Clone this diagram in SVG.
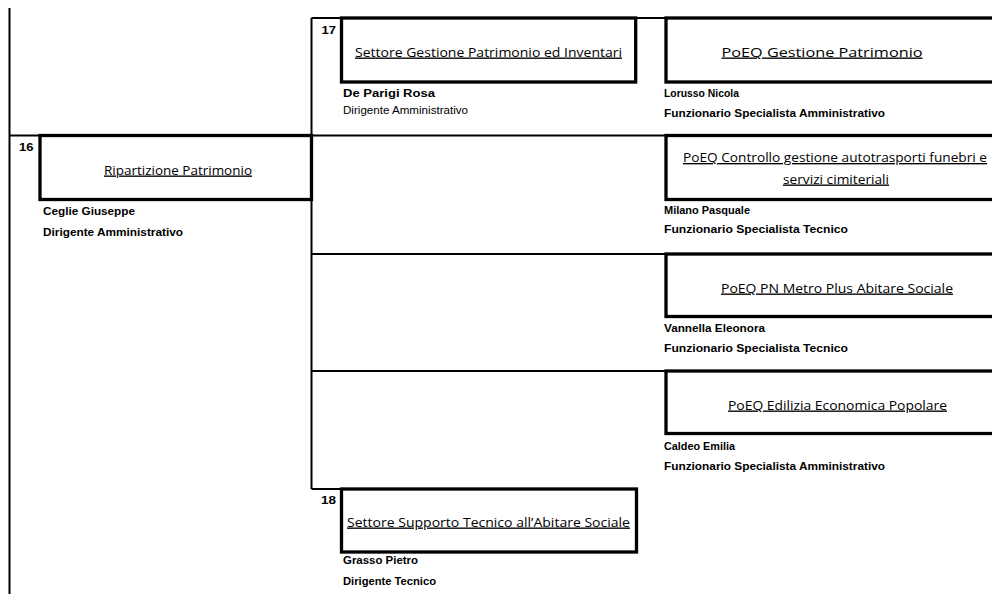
<svg xmlns="http://www.w3.org/2000/svg" width="992" height="594" viewBox="0 0 992 594">
<style>
.bg{fill:#fff}
.ln{stroke:#000;stroke-width:2;fill:none}
.bx{stroke:#000;stroke-width:3.3;fill:#fff}
.t{font-family:"Open Sans","Noto Sans",sans-serif;font-size:13.5px;fill:#000;text-decoration:underline}
.n{font-family:"Liberation Sans",Arial,sans-serif;font-size:11.5px;font-weight:bold;fill:#000}
.b{font-family:"Liberation Sans",Arial,sans-serif;font-size:10.2px;font-weight:bold;fill:#000}
.r{font-family:"Liberation Sans",Arial,sans-serif;font-size:10px;fill:#000}
.bl{font-family:"Liberation Sans",Arial,sans-serif;font-size:11.5px;font-weight:bold;fill:#000}
</style>
<rect class="bg" x="0" y="0" width="992" height="594"/>
<g id="connectors">
<line class="ln" x1="9.5" y1="8" x2="9.5" y2="594"/>
<line class="ln" x1="9.5" y1="135.5" x2="40" y2="135.5"/>
<line class="ln" x1="311.5" y1="135.5" x2="666" y2="135.5"/>
<line class="ln" x1="311.5" y1="18" x2="311.5" y2="489"/>
<line class="ln" x1="311.5" y1="18" x2="341.5" y2="18"/>
<line class="ln" x1="635.7" y1="18" x2="666" y2="18"/>
<line class="ln" x1="311.5" y1="254" x2="666" y2="254"/>
<line class="ln" x1="311.5" y1="371" x2="666" y2="371"/>
<line class="ln" x1="311.5" y1="489" x2="341.5" y2="489"/>
</g>
<g id="node16">
<rect class="bx" x="40" y="135.5" width="271.5" height="64"/>
<text class="n" x="19" y="151" textLength="14.5" lengthAdjust="spacingAndGlyphs">16</text>
<text class="t" x="178" y="174.5" text-anchor="middle" textLength="148" lengthAdjust="spacingAndGlyphs">Ripartizione Patrimonio</text>
<text class="b" x="43" y="215" textLength="92" lengthAdjust="spacingAndGlyphs">Ceglie Giuseppe</text>
<text class="b" x="43" y="236" textLength="140" lengthAdjust="spacingAndGlyphs">Dirigente Amministrativo</text>
</g>
<g id="node17">
<rect class="bx" x="341.5" y="18" width="294.2" height="64"/>
<text class="n" x="321.5" y="34" textLength="14.5" lengthAdjust="spacingAndGlyphs">17</text>
<text class="t" x="488.5" y="56.5" text-anchor="middle" textLength="267" lengthAdjust="spacingAndGlyphs">Settore Gestione Patrimonio ed Inventari</text>
<text class="bl" x="343" y="97" textLength="92" lengthAdjust="spacingAndGlyphs">De Parigi Rosa</text>
<text class="r" x="343" y="114" textLength="125" lengthAdjust="spacingAndGlyphs">Dirigente Amministrativo</text>
</g>
<g id="node-poeq1">
<rect class="bx" x="666" y="18" width="400" height="64"/>
<text class="t" x="822" y="56.5" text-anchor="middle" textLength="201" lengthAdjust="spacingAndGlyphs">PoEQ Gestione Patrimonio</text>
<text class="b" x="664" y="97" textLength="75" lengthAdjust="spacingAndGlyphs">Lorusso Nicola</text>
<text class="b" x="664" y="117" textLength="221" lengthAdjust="spacingAndGlyphs">Funzionario Specialista Amministrativo</text>
</g>
<g id="node-poeq2">
<rect class="bx" x="666" y="135.5" width="400" height="64"/>
<text class="t" x="683" y="162" textLength="304" lengthAdjust="spacingAndGlyphs">PoEQ Controllo gestione autotrasporti funebri e</text>
<text class="t" x="836" y="183.5" text-anchor="middle" textLength="106" lengthAdjust="spacingAndGlyphs">servizi cimiteriali</text>
<text class="b" x="664" y="214" textLength="86" lengthAdjust="spacingAndGlyphs">Milano Pasquale</text>
<text class="b" x="664" y="233" textLength="184" lengthAdjust="spacingAndGlyphs">Funzionario Specialista Tecnico</text>
</g>
<g id="node-poeq3">
<rect class="bx" x="666" y="254" width="400" height="62.5"/>
<text class="t" x="837" y="292.5" text-anchor="middle" textLength="232" lengthAdjust="spacingAndGlyphs">PoEQ PN Metro Plus Abitare Sociale</text>
<text class="b" x="664" y="331.5" textLength="101" lengthAdjust="spacingAndGlyphs">Vannella Eleonora</text>
<text class="b" x="664" y="351.5" textLength="184" lengthAdjust="spacingAndGlyphs">Funzionario Specialista Tecnico</text>
</g>
<g id="node-poeq4">
<rect class="bx" x="666" y="371" width="400" height="62.5"/>
<text class="t" x="837.5" y="409.5" text-anchor="middle" textLength="219" lengthAdjust="spacingAndGlyphs">PoEQ Edilizia Economica Popolare</text>
<text class="b" x="664" y="450" textLength="71" lengthAdjust="spacingAndGlyphs">Caldeo Emilia</text>
<text class="b" x="664" y="470" textLength="221" lengthAdjust="spacingAndGlyphs">Funzionario Specialista Amministrativo</text>
</g>
<g id="node18">
<rect class="bx" x="341.5" y="489" width="295" height="63"/>
<text class="n" x="321" y="504" textLength="15" lengthAdjust="spacingAndGlyphs">18</text>
<text class="t" x="488.5" y="526.5" text-anchor="middle" textLength="283" lengthAdjust="spacingAndGlyphs">Settore Supporto Tecnico all’Abitare Sociale</text>
<text class="b" x="343" y="564" textLength="75" lengthAdjust="spacingAndGlyphs">Grasso Pietro</text>
<text class="b" x="343" y="585" textLength="93" lengthAdjust="spacingAndGlyphs">Dirigente Tecnico</text>
</g>
</svg>
